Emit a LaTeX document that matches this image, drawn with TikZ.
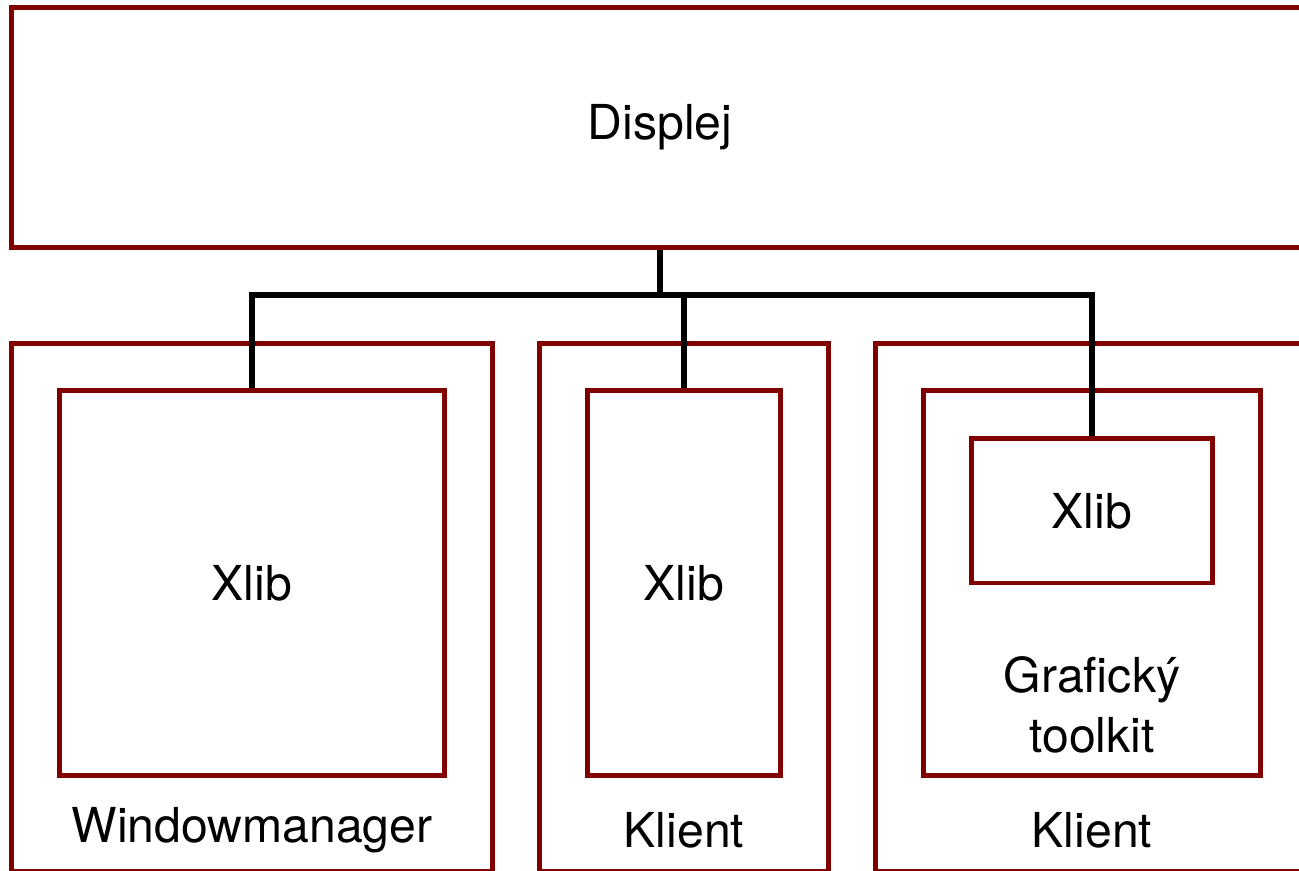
\documentclass[tikz,border=0pt]{standalone}
\usepackage{fontspec}
\setmainfont{TeX Gyre Heros}
\definecolor{boxred}{RGB}{128,0,0}
\tikzset{
  box/.style={draw=boxred, line width=1.4pt, inner sep=0pt},
  wire/.style={draw=black, line width=1.7pt},
  every node/.style={font=\fontsize{13.7pt}{17pt}\selectfont}
}
\begin{document}
\begin{tikzpicture}[x=0.01cm, y=-0.01cm]
  \useasboundingbox (0,0) rectangle (1299,871);
  \clip (0,0) rectangle (1299,871);

  \node[box, minimum width=12.96cm, minimum height=2.39cm] (disp) at (660,127.5) {Displej};

  % Windowmanager
  \node[box, minimum width=4.8cm, minimum height=5.27cm] (wm) at (252,607.5) {};
  \node[box, minimum width=3.84cm, minimum height=3.84cm] (wmxlib) at (252,583) {Xlib};
  \node (wmlabel) at (252,830) {Windowmanager};

  % Klient
  \node[box, minimum width=2.88cm, minimum height=5.27cm] (kl) at (684,607.5) {};
  \node[box, minimum width=1.92cm, minimum height=3.84cm] (klxlib) at (684,583) {Xlib};
  \node (kllabel) at (684,830) {Klient};

  % Klient mit Toolkit
  \node[box, minimum width=4.44cm, minimum height=5.27cm] (kt) at (1098,607.5) {};
  \node[box, minimum width=3.36cm, minimum height=3.84cm] (tk) at (1092,583) {};
  \node[box, minimum width=2.4cm, minimum height=1.44cm] (tkxlib) at (1092,511) {Xlib};
  \node[align=center] (tklabel) at (1092,705) {Grafický\\toolkit};
  \node (ktlabel) at (1092,830) {Klient};

  % Verbindungen
  \coordinate (split) at (660,295);
  \draw[wire] (disp.south) -- (split);
  \draw[wire] (split) -| (wmxlib.north);
  \draw[wire] (split) -| (klxlib.north);
  \draw[wire] (split) -| (tkxlib.north);
\end{tikzpicture}
\end{document}
